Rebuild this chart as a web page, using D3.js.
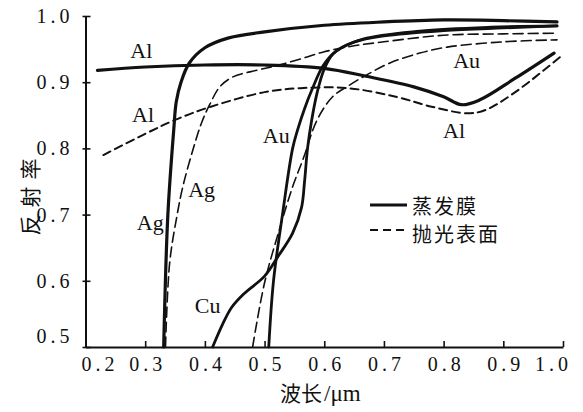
<!DOCTYPE html>
<html>
<head>
<meta charset="utf-8">
<script src="https://cdn.jsdelivr.net/npm/d3@7"></script>
<style>
  body { margin: 0; background: #fff; }
</style>
</head>
<body>
<svg id="chart" width="583" height="412"></svg>
<script>
// wavelength (um) / reflectance pairs
const xTicks = [0.2, 0.3, 0.4, 0.5, 0.6, 0.7, 0.8, 0.9, 1.0];
const yTicks = [0.5, 0.6, 0.7, 0.8, 0.9, 1.0];

const alFilm = [[0.22, 0.918], [0.3, 0.923], [0.4, 0.926], [0.5, 0.926], [0.6, 0.921], [0.67, 0.909],
  [0.75, 0.893], [0.8, 0.878], [0.83, 0.866], [0.86, 0.873], [0.92, 0.906], [0.985, 0.944]];
const alPolished = [[0.23, 0.79], [0.3, 0.822], [0.35, 0.843], [0.41, 0.863], [0.5, 0.885], [0.56, 0.891],
  [0.64, 0.891], [0.72, 0.878], [0.78, 0.863], [0.84, 0.853], [0.87, 0.858], [0.92, 0.885], [0.995, 0.938]];
const agFilm = [[0.331, 0.5], [0.338, 0.7], [0.348, 0.83], [0.352, 0.87], [0.36, 0.9], [0.374, 0.929],
  [0.4, 0.952], [0.44, 0.967], [0.5, 0.976], [0.6, 0.986], [0.7, 0.991], [0.8, 0.994], [0.9, 0.993], [0.99, 0.991]];
const agPolished = [[0.334, 0.5], [0.341, 0.627], [0.353, 0.697], [0.363, 0.742], [0.38, 0.798], [0.395, 0.84],
  [0.408, 0.866], [0.425, 0.893], [0.447, 0.908], [0.487, 0.918], [0.52, 0.925], [0.56, 0.935], [0.6, 0.946],
  [0.65, 0.955], [0.7, 0.961], [0.8, 0.971], [0.9, 0.973], [0.99, 0.974]];
const auFilm = [[0.507, 0.5], [0.515, 0.6], [0.53, 0.7], [0.547, 0.8], [0.556, 0.83], [0.567, 0.86],
  [0.58, 0.89], [0.598, 0.925], [0.62, 0.947], [0.665, 0.965], [0.76, 0.977], [0.88, 0.983], [0.99, 0.985]];
const auPolished = [[0.48, 0.5], [0.5, 0.597], [0.526, 0.681], [0.547, 0.742], [0.565, 0.785], [0.588, 0.843],
  [0.614, 0.878], [0.643, 0.896], [0.671, 0.911], [0.71, 0.929], [0.76, 0.944], [0.806, 0.953], [0.9, 0.961], [0.99, 0.964]];
const cuFilm = [[0.413, 0.5], [0.43, 0.535], [0.445, 0.56], [0.465, 0.58], [0.5, 0.607], [0.522, 0.636],
  [0.547, 0.672], [0.562, 0.711], [0.567, 0.75], [0.572, 0.8], [0.579, 0.843], [0.588, 0.884], [0.6, 0.92],
  [0.615, 0.943], [0.648, 0.96], [0.7, 0.97], [0.8, 0.978], [0.9, 0.982], [0.99, 0.985]];

// curve names, anchored in data units (left edge, baseline)
const curveLabels = [
  ['Al', 0.275, 0.937], ['Al', 0.278, 0.840], ['Au', 0.497, 0.808], ['Ag', 0.372, 0.727],
  ['Ag', 0.286, 0.677], ['Cu', 0.383, 0.551], ['Au', 0.816, 0.921], ['Al', 0.799, 0.816]
];
const legendItems = ['蒸发膜', '抛光表面'];
const yTitle = '反射率';

const svg = d3.select('#chart');
const x = d3.scaleLinear().domain([0.2, 1.0]).range([85.5, 563]);
const y = d3.scaleLinear().domain([0.5, 1.0]).range([347, 16]);
const serif = '"Liberation Serif", "DejaVu Serif", serif';
const cjk = '"Noto Sans CJK SC", sans-serif';

const line = d3.line()
  .x(d => x(d[0]))
  .y(d => y(d[1]))
  .curve(d3.curveCatmullRom.alpha(0.5));

function drawCurve(data, width, dash) {
  svg.append('path')
    .datum(data)
    .attr('d', line)
    .attr('fill', 'none')
    .attr('stroke', '#111')
    .attr('stroke-width', width)
    .attr('stroke-linecap', 'round')
    .attr('stroke-dasharray', dash || null);
}

drawCurve(alPolished, 2, '8,5');
drawCurve(agPolished, 1.6, '10,5');
drawCurve(auPolished, 1.6, '10,5');
drawCurve(alFilm, 3.2);
drawCurve(agFilm, 3.2);
drawCurve(auFilm, 2.8);
drawCurve(cuFilm, 2.8);

// axes
const xAxis = svg.append('g')
  .attr('transform', `translate(0,${y(0.5)})`)
  .call(d3.axisBottom(x).tickValues(xTicks).tickSize(-6).tickSizeOuter(0).tickPadding(10)
    .tickFormat(d3.format('.1f')));
const yAxis = svg.append('g')
  .attr('transform', `translate(${x(0.2)},0)`)
  .call(d3.axisLeft(y).tickValues(yTicks).tickSize(4).tickSizeOuter(0).tickPadding(8)
    .tickFormat(d3.format('.1f')));

[xAxis, yAxis].forEach(g => {
  g.select('.domain').attr('stroke', '#111').attr('stroke-width', 2);
  g.selectAll('.tick line').attr('stroke', '#111').attr('stroke-width', 1.6);
  g.selectAll('.tick text')
    .attr('fill', '#111')
    .style('font-family', serif)
    .style('font-size', '20px')
    .style('letter-spacing', '4px');
});
yAxis.selectAll('.tick line').attr('x2', 5).attr('x1', -3);
xAxis.selectAll('.tick text')
  .attr('dx', d => d === 0.2 ? 14 : d === 1.0 ? -10 : 2);
yAxis.selectAll('.tick text')
  .attr('dy', d => d === 0.5 ? '-0.25em' : '0.32em');

// curve names
svg.append('g').selectAll('text')
  .data(curveLabels)
  .join('text')
  .attr('x', d => x(d[1]))
  .attr('y', d => y(d[2]))
  .attr('fill', '#111')
  .style('font-family', serif)
  .style('font-size', '22px')
  .text(d => d[0]);

// legend
const legend = svg.append('g').attr('transform', 'translate(370,205)');
legendItems.forEach((name, i) => {
  legend.append('line')
    .attr('x1', 0).attr('x2', 37)
    .attr('y1', i * 25).attr('y2', i * 25)
    .attr('stroke', '#111')
    .attr('stroke-width', i === 0 ? 3 : 1.8)
    .attr('stroke-dasharray', i === 0 ? null : '8,5');
  legend.append('text')
    .attr('x', 42).attr('y', i * 28)
    .attr('dominant-baseline', 'central')
    .attr('fill', '#111')
    .style('font-family', cjk)
    .style('font-size', '20px')
    .style('letter-spacing', '2px')
    .text(name);
});

// axis titles
const xTitle = svg.append('text')
  .attr('x', 280).attr('y', 401)
  .attr('fill', '#111')
  .style('font-size', '21px');
xTitle.append('tspan').style('font-family', cjk).text('波长');
xTitle.append('tspan').style('font-family', serif).style('font-size', '23px').attr('dx', 2).text('/μm');

// y title, one glyph at a time, reading bottom to top
svg.append('g')
  .attr('transform', 'translate(29,197) rotate(-90)')
  .selectAll('text')
  .data(Array.from(yTitle))
  .join('text')
  .attr('x', (d, i) => (i - 1) * 28)
  .attr('text-anchor', 'middle')
  .attr('dominant-baseline', 'central')
  .attr('fill', '#111')
  .style('font-family', cjk)
  .style('font-size', '21px')
  .text(d => d);
</script>
</body>
</html>
